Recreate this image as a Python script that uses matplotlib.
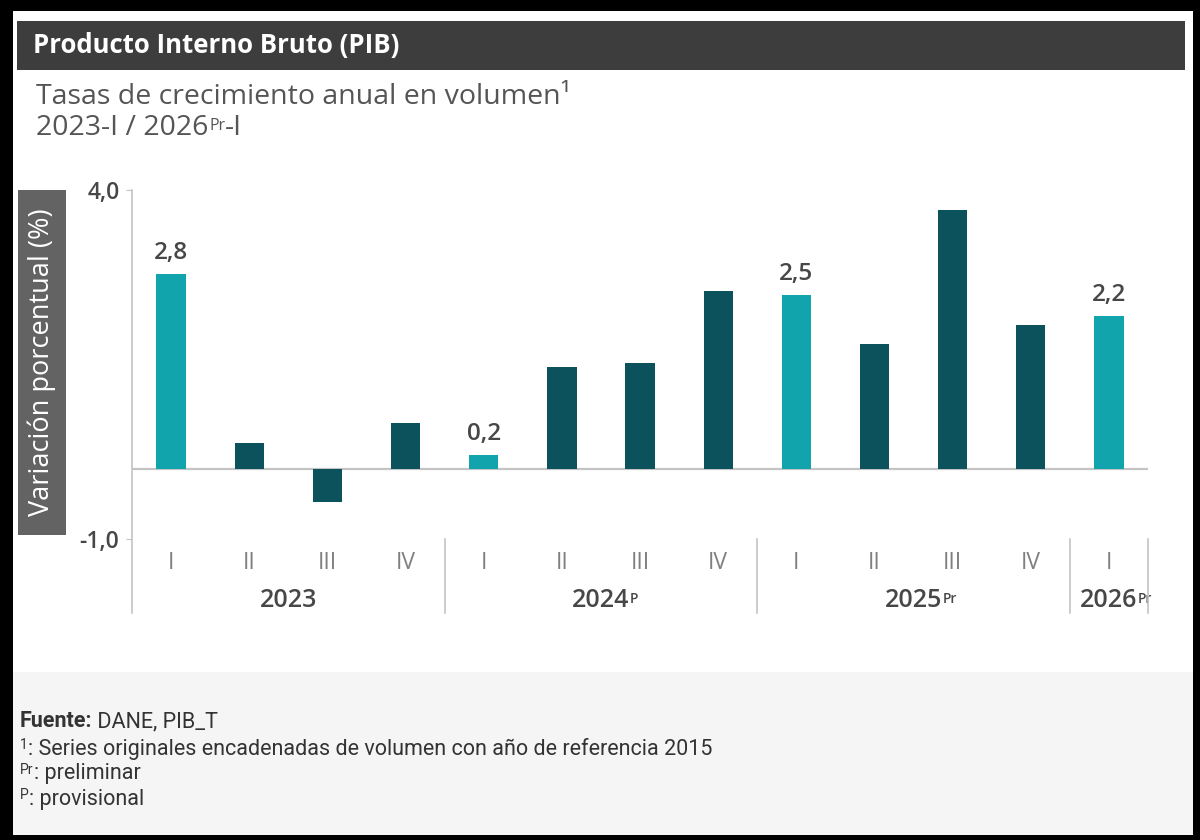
import matplotlib
matplotlib.use("Agg")
import matplotlib.pyplot as plt
from matplotlib.patches import Rectangle
from matplotlib.text import Annotation
from matplotlib.transforms import blended_transform_factory
import matplotlib.font_manager as fm

# ---------------- data ----------------
quarters = ["I", "II", "III", "IV", "I", "II", "III", "IV", "I", "II", "III", "IV", "I"]
values = [2.8, 0.37, -0.47, 0.66, 0.2, 1.47, 1.52, 2.55, 2.5, 1.8, 3.71, 2.07, 2.2]
highlight = [True, False, False, False, True, False, False, False, True, False, False, False, True]
years = ["2023", "2024", "2025", "2026"]
year_sup = ["", "P", "Pr", "Pr"]
year_sizes = [4, 4, 4, 1]
ytick_vals = [4.0, -1.0]
ytick_labels = ["4,0", "-1,0"]

title = "Producto Interno Bruto (PIB)"
subtitle1 = "Tasas de crecimiento anual en volumen¹"
subtitle2 = ["2023-I / 2026", "Pr", "-I"]
ylabel = "Variación porcentual (%)"

LIGHT = "#12a4ad"
DARK = "#0b525c"
TXT = "#474747"

W, H = 1200, 840
fig = plt.figure(figsize=(12, 8.4), dpi=100, facecolor="black")

avail = {f.name for f in fm.fontManager.ttflist}
SANS = "Open Sans" if "Open Sans" in avail else "DejaVu Sans"
FOOT = "Roboto" if "Roboto" in avail else "DejaVu Sans"


def fx(x):
    return x / W


def fy(y):
    return 1 - y / H


def frect(x0, y0, x1, y1, color, z=0):
    fig.patches.append(Rectangle((fx(x0), fy(y1)), fx(x1) - fx(x0), fy(y0) - fy(y1),
                                 transform=fig.transFigure, color=color, zorder=z, lw=0))


def chain(text, xy, xycoords, va="bottom", offset=(0, 0), **kw):
    a = Annotation(text, xy=xy, xycoords=xycoords, xytext=offset, textcoords="offset points",
                   ha="left", va=va, annotation_clip=False, **kw)
    fig.add_artist(a)
    return a


# card backgrounds
frect(13, 11, 1193, 835, "white", 0)
frect(13, 672, 1193, 835, "#f5f5f5", 1)
frect(17, 21, 1185, 70, "#3d3d3d", 2)
frect(18, 190, 66, 535, "#636363", 2)

fig.text(fx(33), fy(46), title, color="white", fontsize=18.5, family=SANS,
         fontweight="bold", va="center", ha="left", zorder=5)
fig.text(fx(36), fy(97), subtitle1, color="#555555", fontsize=20.5, family=SANS,
         va="center", ha="left", zorder=5)
s2 = fig.text(fx(36), fy(128), subtitle2[0], color="#555555", fontsize=20.5, family=SANS,
              va="center", ha="left", zorder=5)
s2s = chain(subtitle2[1], (1, 0.86), s2, va="top", offset=(0.5, 0),
            color="#555555", fontsize=11.5, family=SANS)
chain(subtitle2[2], (1, 0), (s2s, s2), va="bottom", color="#555555", fontsize=20.5, family=SANS)

fig.text(fx(42), fy(362), ylabel, color="white", fontsize=19.5, family=SANS,
         rotation=90, va="center", ha="center", zorder=5)

# ---------------- axes ----------------
ax = fig.add_axes([fx(132), fy(539), fx(1148) - fx(132), fy(190) - fy(539)])
ax.set_facecolor("none")
ax.set_zorder(3)
x = list(range(len(values)))
colors = [LIGHT if h else DARK for h in highlight]
ax.bar(x, values, width=0.375, color=colors, zorder=3)
ax.set_xlim(-0.5, len(values) - 0.5)
ax.set_ylim(-1, 4)
ax.axhline(0, color="#c4c4c4", lw=1.6, zorder=2)
for sp in ax.spines.values():
    sp.set_visible(False)
ax.set_xticks([])
ax.set_yticks(ytick_vals)
ax.set_yticklabels(ytick_labels, fontsize=16.5, fontweight="semibold", color=TXT, family=SANS)
ax.tick_params(axis="y", length=4, color="#c4c4c4", pad=5)

tr = blended_transform_factory(ax.transData, ax.transAxes)
ax.plot([-0.5, -0.5], [1, -0.212], transform=tr, color="#c4c4c4", lw=1.2, clip_on=False)

for i, v in enumerate(values):
    ax.text(i, -0.069, quarters[i], transform=tr, ha="center", va="center",
            fontsize=16.5, color="#808080", family=SANS)
    if highlight[i]:
        ax.text(i, v + 0.13, f"{v:.1f}".replace(".", ","), ha="center", va="bottom",
                fontsize=17.5, fontweight="semibold", color=TXT, family=SANS)

start = 0
for yr, sp, n in zip(years, year_sup, year_sizes):
    end = start + n
    xb = end - 0.5
    ax.plot([xb, xb], [0.0, -0.212], transform=tr, color="#c4c4c4", lw=1.2, clip_on=False)
    cx = (start + end - 1) / 2
    t = ax.text(cx, -0.175, yr, transform=tr, ha="center", va="center",
                fontsize=18, fontweight="semibold", color=TXT, family=SANS)
    if sp:
        chain(sp, (1, 0.84), t, va="top", offset=(0.3, 0), fontsize=10,
              fontweight="semibold", color=TXT, family=SANS)
    start = end

# ---------------- footnotes ----------------
fs = 15.5
FC = "#333333"
f1 = fig.text(fx(20), fy(721), "Fuente:", fontsize=fs, fontweight="bold", color=FC,
              family=FOOT, va="center", ha="left")
chain(" DANE, PIB_T", (1, 0), f1, va="bottom", fontsize=fs, color=FC, family=FOOT)
for yy, sp, txt in [(749, "1", ": Series originales encadenadas de volumen con año de referencia 2015"),
                    (774, "Pr", ": preliminar"), (799, "P", ": provisional")]:
    b = fig.text(fx(20), fy(yy - 11), sp, fontsize=10, color=FC, family=FOOT,
                 va="top", ha="left")
    chain(txt, (1, fy(yy)), (b, "figure fraction"), va="center", fontsize=fs,
          color=FC, family=FOOT)

fig.savefig("out.png", dpi=100, facecolor=fig.get_facecolor())
